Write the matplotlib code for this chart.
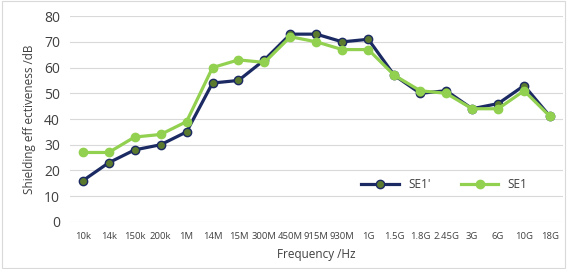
import matplotlib
matplotlib.use('Agg')
import matplotlib.pyplot as plt
from matplotlib.patches import Rectangle

freqs = ['10k', '14k', '150k', '200k', '1M', '14M', '15M', '300M', '450M', '915M',
         '930M', '1G', '1.5G', '1.8G', '2.45G', '3G', '6G', '10G', '18G']
se1_prime = [16, 23, 28, 30, 35, 54, 55, 63, 73, 73, 70, 71, 57, 50, 51, 44, 46, 53, 41]
se1 = [27, 27, 33, 34, 39, 60, 63, 62, 72, 70, 67, 67, 57, 51, 50, 44, 44, 51, 41]

plt.rcParams['font.family'] = ['Open Sans', 'DejaVu Sans']

fig = plt.figure(figsize=(5.67, 2.69), dpi=100)
ax = fig.add_axes([0.123, 0.175, 0.870, 0.765])

x = list(range(len(freqs)))
ax.plot(x, se1_prime, color='#1B2A63', lw=2.3, marker='o', ms=6,
        mfc='#5B7A2E', mec='#1B2A63', mew=1.0, label="SE1'", zorder=3)
ax.plot(x, se1, color='#92D050', lw=2.3, marker='o', ms=6,
        mfc='#92D050', mec='#92D050', label='SE1', zorder=4)

ax.set_xlim(-0.5, len(freqs) - 0.5)
ax.set_ylim(0, 80)
ax.set_yticks(range(0, 81, 10))
ax.set_xticks(x)
ax.set_xticklabels(freqs, fontsize=6.8, color='#404040')
ax.tick_params(axis='y', labelsize=10, colors='#404040')
ax.tick_params(length=0, pad=7)
ax.grid(axis='y', color='#D9D9D9', lw=0.8)
ax.set_axisbelow(True)
for s in ax.spines.values():
    s.set_visible(False)

ax.set_ylabel('Shielding eff ectiveness /dB', fontsize=8.5, color='#404040', labelpad=6)
ax.set_xlabel('Frequency /Hz', fontsize=8.5, color='#404040', labelpad=5)

ax.legend(loc='lower right', bbox_to_anchor=(0.95, 0.10), ncol=2, frameon=False,
          fontsize=8.5, handlelength=3.2, columnspacing=2.5, labelcolor='#404040')

fig.patches.append(Rectangle((0.003, 0.004), 0.994, 0.992, transform=fig.transFigure,
                             fill=False, edgecolor='#D9D9D9', lw=0.8))

fig.savefig('out.png', dpi=100)
